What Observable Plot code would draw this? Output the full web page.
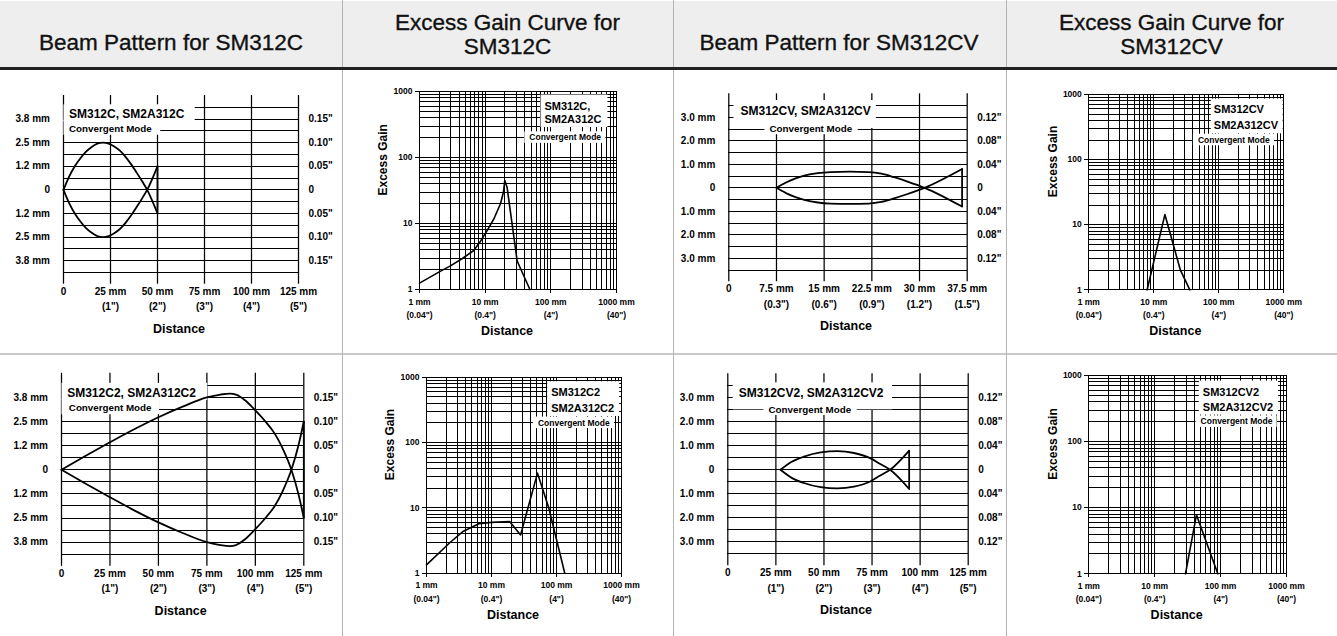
<!DOCTYPE html>
<html>
<head>
<meta charset="utf-8">
<script src="https://cdn.jsdelivr.net/npm/d3@7"></script>
<script src="https://cdn.jsdelivr.net/npm/@observablehq/plot@0.6"></script>
<style>
  html, body { margin: 0; padding: 0; background: #fff; }
  #page { position: relative; width: 1337px; height: 636px; overflow: hidden; font-family: "Liberation Sans", Arial, Helvetica, sans-serif; }
  #hdrbg { position: absolute; left: 0; top: 1px; width: 1337px; height: 66px; background: #eeeeee; }
  #hdrrule { position: absolute; left: 0; top: 67px; width: 1337px; height: 3px; background: #222; z-index: 3; }
  .hdr { position: absolute; text-align: center; white-space: pre-line; font-size: 22.5px; line-height: 24.3px; color: #111; -webkit-text-stroke: 0.35px #111; }
  .vdiv { position: absolute; top: 0; width: 1px; height: 636px; background: #b4b4b4; z-index: 2; }
  #hdiv { position: absolute; left: 0; top: 353px; width: 1337px; height: 2px; background: #c8c8c8; z-index: 2; }
</style>
</head>
<body>
<div id="page">
  <div id="hdrbg"></div>
  <div id="hdrrule"></div>
  <div id="hdiv"></div>
</div>
<script>
// ---------- header texts ----------
const headers = ["Beam Pattern for SM312C", "Excess Gain Curve for\nSM312C", "Beam Pattern for SM312CV", "Excess Gain Curve for\nSM312CV"];

// ---------- beam-pattern axes ----------
const beamGridC = [-0.175, -0.15, -0.125, -0.1, -0.075, -0.05, -0.025, 0, 0.025, 0.05, 0.075, 0.1, 0.125, 0.15, 0.175];
const beamTicksC = [0, 0.05, 0.1, 0.15, -0.05, -0.1, -0.15];
const beamLeftC = ["0", "1.2 mm", "2.5 mm", "3.8 mm", "1.2 mm", "2.5 mm", "3.8 mm"];
const beamRightC = ["0", '0.05"', '0.10"', '0.15"', '0.05"', '0.10"', '0.15"'];

const beamGridCV = [-0.14, -0.12, -0.1, -0.08, -0.06, -0.04, -0.02, 0, 0.02, 0.04, 0.06, 0.08, 0.1, 0.12, 0.14];
const beamTicksCV = [0, 0.04, 0.08, 0.12, -0.04, -0.08, -0.12];
const beamLeftCV = ["0", "1.0 mm", "2.0 mm", "3.0 mm", "1.0 mm", "2.0 mm", "3.0 mm"];
const beamRightCV = ["0", '0.04"', '0.08"', '0.12"', '0.04"', '0.08"', '0.12"'];

const dist125 = [0, 25, 50, 75, 100, 125];
const dist125mm = ["0", "25 mm", "50 mm", "75 mm", "100 mm", "125 mm"];
const dist125in = ["", '(1")', '(2")', '(3")', '(4")', '(5")'];
const dist375 = [0, 7.5, 15, 22.5, 30, 37.5];
const dist375mm = ["0", "7.5 mm", "15 mm", "22.5 mm", "30 mm", "37.5 mm"];
const dist375in = ["", '(0.3")', '(0.6")', '(0.9")', '(1.2")', '(1.5")'];

// ---------- excess-gain axes ----------
const gainGrid = [1, 2, 3, 4, 5, 6, 7, 8, 9, 10, 20, 30, 40, 50, 60, 70, 80, 90, 100, 200, 300, 400, 500, 600, 700, 800, 900, 1000];
const gainDecades = [1, 10, 100, 1000];
const gainYLabels = ["1", "10", "100", "1000"];
const gainXmm = ["1 mm", "10 mm", "100 mm", "1000 mm"];
const gainXin = ['(0.04")', '(0.4")', '(4")', '(40")'];
const convGainLevel = [200];
const convBeamLevelCV = [0.1];

// ---------- beam curves: [distance mm, half-width inches] ----------
const fishC_up = [[0,0],[3,0.028],[6,0.05],[9,0.067],[12,0.081],[15,0.091],[18,0.098],[21,0.1],[24,0.098],[27,0.092],[30,0.083],[33,0.07],[36,0.054],[39,0.036],[42,0.017],[44.5,0],[50,-0.05]];
const fishC_lo = [[0,0],[3,-0.028],[6,-0.05],[9,-0.067],[12,-0.081],[15,-0.091],[18,-0.098],[21,-0.1],[24,-0.098],[27,-0.092],[30,-0.083],[33,-0.07],[36,-0.054],[39,-0.036],[42,-0.017],[44.5,0],[50,0.05]];
const tailC = [{x: 50, y1: -0.05, y2: 0.05}];

const fishCV_up = [[7.5,0],[9,0.009],[10.5,0.016],[12,0.021],[14,0.025],[16,0.0268],[19,0.0275],[22,0.0268],[24,0.024],[26,0.018],[28,0.011],[30.8,0],[36.7,-0.032]];
const fishCV_lo = [[7.5,0],[9,-0.009],[10.5,-0.016],[12,-0.021],[14,-0.025],[16,-0.0268],[19,-0.0275],[22,-0.0268],[24,-0.024],[26,-0.018],[28,-0.011],[30.8,0],[36.7,0.032]];
const tailCV = [{x: 36.7, y1: -0.032, y2: 0.032}];

const fishC2_up = [[0,0],[12.5,0.029],[25,0.057],[37.5,0.084],[50,0.109],[62.5,0.131],[75,0.15],[82,0.156],[87,0.158],[90,0.156],[95,0.143],[100,0.123],[105,0.101],[110,0.075],[114,0.045],[118.6,0],[122.4,-0.053],[125,-0.1]];
const fishC2_lo = [[0,0],[12.5,-0.029],[25,-0.057],[37.5,-0.084],[50,-0.109],[62.5,-0.131],[75,-0.15],[82,-0.156],[87,-0.158],[90,-0.156],[95,-0.143],[100,-0.123],[105,-0.101],[110,-0.075],[114,-0.045],[118.6,0],[122.4,0.053],[125,0.1]];
const tailC2 = [{x: 125, y1: -0.1, y2: 0.1}];

const fishCV2_up = [[27.4,0],[33,0.013],[39.6,0.022],[48.3,0.029],[57,0.031],[65.6,0.028],[74.3,0.019],[79,0.01],[84.4,0],[94.3,-0.032]];
const fishCV2_lo = [[27.4,0],[33,-0.013],[39.6,-0.022],[48.3,-0.029],[57,-0.031],[65.6,-0.028],[74.3,-0.019],[79,-0.01],[84.4,0],[94.3,0.032]];
const tailCV2 = [{x: 94.3, y1: -0.032, y2: 0.032}];

// ---------- excess gain curves: [distance mm, gain] ----------
const gainC = [[1,1.25],[2,1.85],[3,2.3],[4.5,2.95],[6.7,3.9],[8.5,5.4],[10.7,7.8],[13.6,11.8],[17.1,19.9],[19,30],[19.9,45],[21.6,35],[30.7,2.7],[48,1]];
const gainCV = [[7.9,1],[14.8,14.3],[25.7,2],[35.8,1]];
const gainC2 = [[1,1.34],[2.3,2.95],[3.7,4.4],[6.4,5.7],[10,6],[19,6.2],[28,3.85],[51,34],[76,10],[134,1]];
const gainCV2 = [[29.3,1],[43,7.8],[90.7,1]];

// ---------- layout ----------
const colLeft = [0, 343, 673, 1006];
const colW = [342, 329, 332, 331];
const rowTop = [70, 355];
const rowH = [284, 281];

const page = document.getElementById("page");
const FONT = '"Liberation Sans", Arial, Helvetica, sans-serif';
const plotStyle = {fontFamily: FONT, fontWeight: "bold", fontSize: "10px", color: "#000", background: "transparent", overflow: "visible"};

// header
const hdrTop = [31, 11, 31, 11];
headers.forEach((h, i) => {
  const d = document.createElement("div");
  d.className = "hdr";
  d.style.left = colLeft[i] + "px";
  d.style.width = colW[i] + "px";
  d.style.top = hdrTop[i] + "px";
  d.textContent = h;
  page.appendChild(d);
});
[342, 673, 1006].forEach(x => {
  const d = document.createElement("div");
  d.className = "vdiv";
  d.style.left = x + "px";
  page.appendChild(d);
});

const grid = {stroke: "#000", strokeWidth: 1, shapeRendering: "crispEdges"};
const vgrid = {stroke: "#000", strokeWidth: 1.25};

function beamChart(o) {
  return Plot.plot({
    width: o.w, height: o.h,
    marginLeft: o.m[0], marginRight: o.m[1], marginTop: o.m[2], marginBottom: o.m[3],
    x: {domain: o.xDomain, axis: null},
    y: {domain: o.yDomain, axis: null},
    style: plotStyle,
    marks: [
      Plot.ruleY(o.yGrid, grid),
      Plot.ruleX(o.xTicks, vgrid),
      Plot.text([o.title], {frameAnchor: "top-left", textAnchor: "start", dx: o.titleDx, dy: o.titleDy, fontSize: 12, fontWeight: "bold", ariaLabel: () => o.titleBox}),
      o.conv,
      Plot.line(o.upper, {x: d => d[0], y: d => d[1], curve: "monotone-x", stroke: "#000", strokeWidth: 1.8}),
      Plot.line(o.lower, {x: d => d[0], y: d => d[1], curve: "monotone-x", stroke: "#000", strokeWidth: 1.8}),
      Plot.ruleX(o.tail, {x: "x", y1: "y1", y2: "y2", stroke: "#000", strokeWidth: 1.8}),
      Plot.text(o.yTicks, {y: d => d, text: (d, i) => o.yLeft[i], frameAnchor: "left", textAnchor: "end", dx: -13.5, fontSize: 10}),
      Plot.text(o.yTicks, {y: d => d, text: (d, i) => o.yRight[i], frameAnchor: "right", textAnchor: "start", dx: 10, fontSize: 10}),
      Plot.text(o.xTicks, {x: d => d, text: (d, i) => o.xMm[i], frameAnchor: "bottom", dy: 10.5, fontSize: 10}),
      Plot.text(o.xTicks, {x: d => d, text: (d, i) => o.xIn[i], frameAnchor: "bottom", dy: 26, fontSize: 10}),
      Plot.text(["Distance"], {frameAnchor: "bottom", dx: -2, dy: 48.5, fontSize: 12.5})
    ]
  });
}

function gainChart(o) {
  return Plot.plot({
    width: o.w, height: o.h,
    marginLeft: o.m[0], marginRight: o.m[1], marginTop: o.m[2], marginBottom: o.m[3],
    x: {type: "log", domain: [1, 1000], axis: null},
    y: {type: "log", domain: [1, 1000], axis: null},
    style: plotStyle,
    marks: [
      Plot.ruleX(gainGrid, grid),
      Plot.ruleY(gainGrid, grid),
      Plot.ruleX(gainDecades, {...grid, insetBottom: -4}),
      Plot.ruleY(gainDecades, {...grid, insetLeft: -4}),
      Plot.text([o.title], {frameAnchor: "top-right", textAnchor: "start", lineAnchor: "top", dx: o.titleDx, dy: o.titleDy, lineHeight: o.lh, fontSize: 11, ariaLabel: () => o.titleBox}),
      Plot.text(convGainLevel, {y: d => d, text: () => "Convergent Mode", frameAnchor: "right", textAnchor: "middle", dx: o.convDx, fontSize: 8.5, ariaLabel: () => "box:5:4:1:0.5"}),
      Plot.line(o.curve, {x: d => d[0], y: d => d[1], stroke: "#000", strokeWidth: 1.6}),
      Plot.text(gainDecades, {y: d => d, text: (d, i) => gainYLabels[i], frameAnchor: "left", textAnchor: "end", dx: -7, fontSize: 8.5}),
      Plot.text(gainDecades, {x: d => d, text: (d, i) => gainXmm[i], frameAnchor: "bottom", dy: 15, fontSize: 8.5}),
      Plot.text(gainDecades, {x: d => d, text: (d, i) => gainXin[i], frameAnchor: "bottom", dy: 28.5, fontSize: 8.5}),
      Plot.text(["Excess Gain"], {frameAnchor: "left", rotate: -90, dx: -36, dy: 5, fontSize: 12}),
      Plot.text(["Distance"], {frameAnchor: "bottom", dx: -11, dy: 45.5, fontSize: 12.5})
    ]
  });
}

function addBoxes(svg) {
  svg.querySelectorAll('text[aria-label^="box"]').forEach(t => {
    const p = t.getAttribute("aria-label").split(":").slice(1).map(Number);
    const g = t.parentNode;
    const bb = g.getBBox();
    const r = document.createElementNS("http://www.w3.org/2000/svg", "rect");
    r.setAttribute("x", bb.x - p[0]);
    r.setAttribute("y", bb.y - p[2]);
    r.setAttribute("width", bb.width + p[0] + p[1]);
    r.setAttribute("height", bb.height + p[2] + p[3]);
    r.setAttribute("fill", "#fff");
    g.insertBefore(r, g.firstChild);
  });
}

function place(svg, col, row) {
  svg.style.position = "absolute";
  svg.style.left = colLeft[col] + "px";
  svg.style.top = rowTop[row] + "px";
  page.appendChild(svg);
  addBoxes(svg);
}

const beamC = {xDomain: [0, 125], xTicks: dist125, xMm: dist125mm, xIn: dist125in, yDomain: [-0.2, 0.2], yGrid: beamGridC, yTicks: beamTicksC, yLeft: beamLeftC, yRight: beamRightC};
const beamCV375 = {xDomain: [0, 37.5], xTicks: dist375, xMm: dist375mm, xIn: dist375in, yDomain: [-0.16, 0.16], yGrid: beamGridCV, yTicks: beamTicksCV, yLeft: beamLeftCV, yRight: beamRightCV};
const beamCV125 = {xDomain: [0, 125], xTicks: dist125, xMm: dist125mm, xIn: dist125in, yDomain: [-0.16, 0.16], yGrid: beamGridCV, yTicks: beamTicksCV, yLeft: beamLeftCV, yRight: beamRightCV};

// A: Beam SM312C
place(beamChart({...beamC, w: colW[0], h: rowH[0], m: [63, 44, 25, 70.3],
  title: "SM312C, SM2A312C", titleDx: 5.5, titleDy: 14.3, titleBox: "box:5.5:10:3:0",
  conv: Plot.text(["Convergent Mode"], {frameAnchor: "top-left", textAnchor: "start", dx: 5.5, dy: 29.3, fontSize: 9.8, ariaLabel: () => "box:5.5:8:3:1"}),
  upper: fishC_up, lower: fishC_lo, tail: tailC}), 0, 0);

// B: Gain SM312C
place(gainChart({w: colW[1], h: rowH[0], m: [76, 56, 21, 65],
  title: "SM312C,\nSM2A312C", titleDx: -72, titleDy: 8.5, lh: 1.22, titleBox: "box:4:6:5:2", convDx: -51.3, curve: gainC}), 1, 0);

// C: Beam SM312CV
place(beamChart({...beamCV375, w: colW[2], h: rowH[0], m: [55.3, 38.3, 23.3, 72.7],
  title: "SM312CV, SM2A312CV", titleDx: 11.7, titleDy: 12.7, titleBox: "box:7:5:4:10",
  conv: Plot.text(convBeamLevelCV, {y: d => d, text: () => "Convergent Mode", frameAnchor: "left", textAnchor: "middle", dx: 82, fontSize: 9.8, ariaLabel: () => "box:5:5:0:0"}),
  upper: fishCV_up, lower: fishCV_lo, tail: tailCV}), 2, 0);

// D: Gain SM312CV
place(gainChart({w: colW[3], h: rowH[0], m: [82.3, 53.7, 24, 64.7],
  title: "SM312CV\nSM2A312CV", titleDx: -70, titleDy: 6.2, lh: 1.52, titleBox: "box:3:4:4:2", convDx: -50, curve: gainCV}), 3, 0);

// E: Beam SM312C2
place(beamChart({...beamC, w: colW[0], h: rowH[1], m: [61, 38.7, 17.8, 70.2],
  title: "SM312C2, SM2A312C2", titleDx: 5.7, titleDy: 15, titleBox: "box:5.7:11:3:0",
  conv: Plot.text(["Convergent Mode"], {frameAnchor: "top-left", textAnchor: "start", dx: 7.3, dy: 31, fontSize: 9.8, ariaLabel: () => "box:7.3:7:3:1"}),
  upper: fishC2_up, lower: fishC2_lo, tail: tailC2}), 0, 1);

// F: Gain SM312C2
place(gainChart({w: colW[1], h: rowH[1], m: [83, 51, 21.7, 63.3],
  title: "SM312C2\nSM2A312C2", titleDx: -70.3, titleDy: 7.9, lh: 1.43, titleBox: "box:4:5:5:2", convDx: -47.7, curve: gainC2}), 1, 1);

// G: Beam SM312CV2
place(beamChart({...beamCV125, w: colW[2], h: rowH[1], m: [54.3, 37.3, 18.3, 70.7],
  title: "SM312CV2, SM2A312CV2", titleDx: 11, titleDy: 15, titleBox: "box:6:8:4:9",
  conv: Plot.text(convBeamLevelCV, {y: d => d, text: () => "Convergent Mode", frameAnchor: "left", textAnchor: "middle", dx: 82, fontSize: 9.8, ariaLabel: () => "box:5:5:0:0"}),
  upper: fishCV2_up, lower: fishCV2_lo, tail: tailCV2}), 2, 1);

// H: Gain SM312CV2
place(gainChart({w: colW[3], h: rowH[1], m: [82.3, 51, 20, 62.7],
  title: "SM312CV2\nSM2A312CV2", titleDx: -83.7, titleDy: 9.5, lh: 1.36, titleBox: "box:4:5:5:2", convDx: -50, curve: gainCV2}), 3, 1);
</script>
</body>
</html>
